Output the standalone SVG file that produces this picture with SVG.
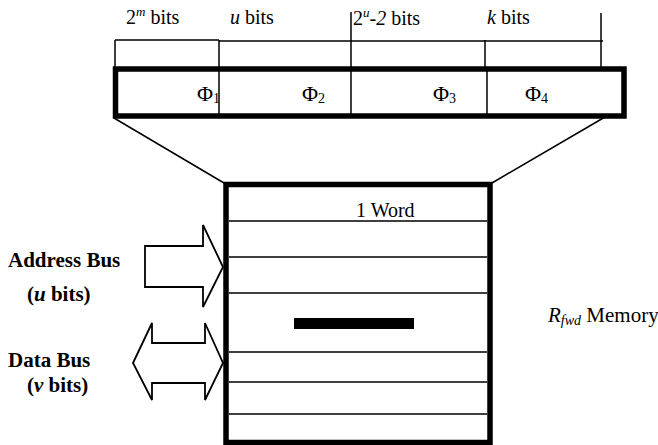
<svg xmlns="http://www.w3.org/2000/svg" width="658" height="445" viewBox="0 0 658 445">
  <style>
    .t { font-family: "Liberation Serif", "Times New Roman", serif; fill: #000; }
    .lbl { font-size: 20px; }
    .phi { font-size: 22px; }
    .bus { font-size: 21px; font-weight: bold; }
    .thin { stroke: #000; stroke-width: 1.5; fill: none; }
    .thick { stroke: #000; stroke-width: 5.5; fill: #fff; }
    .arrow { stroke: #000; stroke-width: 1.8; fill: #fff; stroke-linejoin: miter; }
  </style>
  <rect width="658" height="445" fill="#fff"/>

  <!-- field-width brackets above the word -->
  <g id="field-brackets">
    <path class="thin" d="M115 40 H219 M219 41 H603"/>
    <path class="thin" d="M115 40 V68 M219 40 V68 M351 12 V68 M485 40 V68 M601 13 V68"/>
    <text class="t lbl" x="126" y="24">2<tspan font-style="italic" font-size="13" dy="-8">m</tspan><tspan dy="8"> bits</tspan></text>
    <text class="t lbl" x="230" y="24"><tspan font-style="italic">u</tspan> bits</text>
    <text class="t lbl" x="353" y="25">2<tspan font-style="italic" font-size="13" dy="-8">u</tspan><tspan dy="8">-</tspan><tspan font-style="italic">2</tspan> bits</text>
    <text class="t lbl" x="487" y="24"><tspan font-style="italic">k</tspan> bits</text>
  </g>

  <!-- word layout: four fields -->
  <g id="word">
    <rect class="thick" x="115.5" y="69" width="508.5" height="47"/>
    <path class="thin" d="M219 71 V114 M351 71 V114 M487 71 V114"/>
    <text class="t phi" x="197" y="101">Φ<tspan font-size="14" dy="2">1</tspan></text>
    <text class="t phi" x="302" y="101">Φ<tspan font-size="14" dy="2">2</tspan></text>
    <text class="t phi" x="433" y="101">Φ<tspan font-size="14" dy="2">3</tspan></text>
    <text class="t phi" x="525" y="101">Φ<tspan font-size="14" dy="2">4</tspan></text>
  </g>

  <!-- expansion lines from the word to one memory row -->
  <g id="connectors">
    <path class="thin" d="M114 118 L224 183 M605 117 L492 183"/>
  </g>

  <!-- memory array -->
  <g id="memory">
    <rect class="thick" x="226" y="184.5" width="264" height="258"/>
    <path class="thin" d="M229 221 H487 M229 257 H487 M229 293 H487 M229 352 H487 M229 382 H487 M229 414 H487"/>
    <rect x="294" y="318" width="120" height="11" fill="#000"/>
    <text class="t" font-size="20" x="356" y="217">1 Word</text>
  </g>

  <!-- address bus -->
  <g id="address-bus">
    <polygon class="arrow" points="145,246 203,246 203,225 223,267 203,307 203,287 145,287"/>
    <text class="t bus" x="8" y="267">Address Bus</text>
    <text class="t bus" x="27" y="301">(<tspan font-style="italic">u</tspan> bits)</text>
  </g>

  <!-- data bus -->
  <g id="data-bus">
    <polygon class="arrow" points="133,363 152,323 152,343 205,343 205,323 223,363 205,400 205,383 152,383 152,400"/>
    <text class="t bus" x="8" y="367">Data Bus</text>
    <text class="t bus" x="27" y="392">(<tspan font-style="italic">v</tspan> bits)</text>
  </g>

  <!-- memory label -->
  <g id="memory-label">
    <text class="t" font-size="21" x="548" y="322"><tspan font-style="italic">R</tspan><tspan font-style="italic" font-size="14" dy="3">fwd</tspan><tspan dy="-3"> Memory</tspan></text>
  </g>
</svg>
